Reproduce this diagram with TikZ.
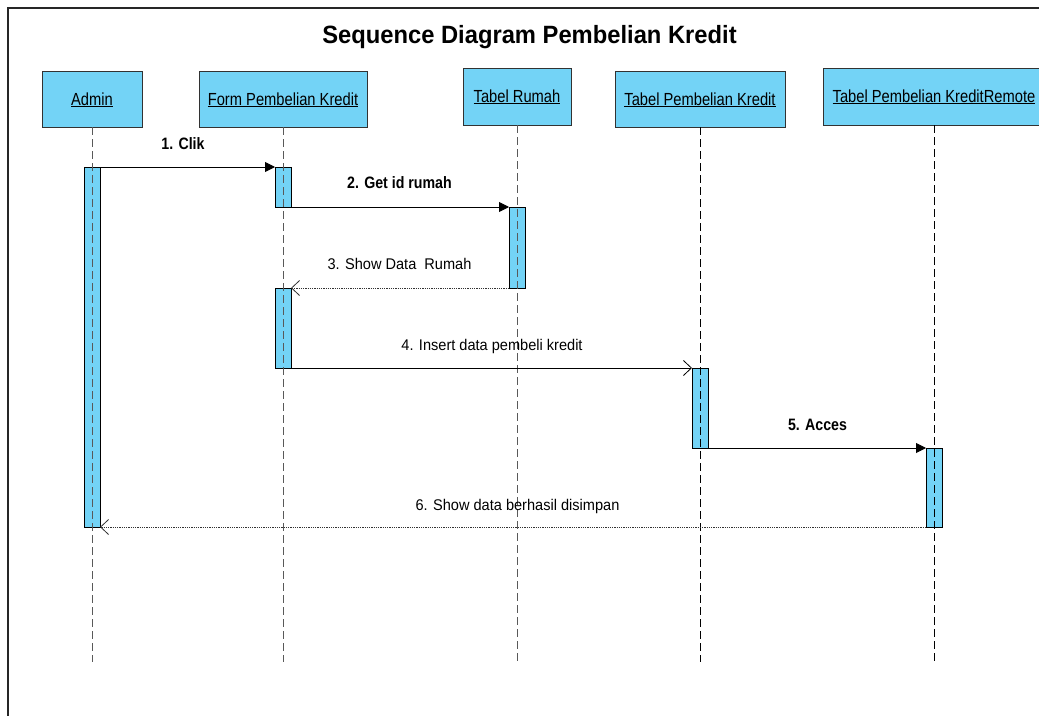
\documentclass[tikz,border=0pt]{standalone}
\usepackage{fontspec}
\setmainfont{Liberation Sans}
\newfontfamily\hdrfont[FakeStretch=0.84]{Liberation Sans}
\newfontfamily\msgfont[FakeStretch=0.94]{Liberation Sans}
\newfontfamily\msgbfont[FakeStretch=0.86]{Liberation Sans}
\newfontfamily\ttlfont[FakeStretch=0.95]{Liberation Sans}
\usetikzlibrary{arrows.meta}
\definecolor{lifeblue}{RGB}{115,211,246}
\definecolor{boxline}{RGB}{50,50,50}
\tikzset{
  objbox/.style={draw=boxline, line width=0.9pt, fill=lifeblue, inner sep=0pt,
    outer sep=0pt, minimum height=56pt, text=black,
    font=\hdrfont\fontsize{17.5}{20}\selectfont},
  actbar/.style={draw=black, line width=0.8pt, fill=lifeblue, inner sep=0pt,
    outer sep=0pt, minimum width=16pt},
  lifeline/.style={draw=black, line width=0.9pt, dash pattern=on 8pt off 4pt},
  lifelinegray/.style={lifeline, draw=black!65},
  syncmsg/.style={draw=black, line width=0.9pt, -{Triangle[length=10pt,width=10pt]}},
  asyncmsg/.style={draw=black, line width=0.9pt, -{Straight Barb[length=8pt,width=15pt,line width=0.8pt]}},
  replymsg/.style={draw=black!80, line width=0.8pt, dash pattern=on 1pt off 0.8pt,
    -{Straight Barb[length=8pt,width=15pt,line width=0.8pt]}},
  msglabel/.style={anchor=base, inner sep=0pt, font=\msgfont\fontsize{15.5}{18}\selectfont},
  msgbold/.style={anchor=base, inner sep=0pt, font=\msgbfont\bfseries\fontsize{16.5}{19}\selectfont},
  hdrtext/.style={anchor=base, inner sep=0pt, font=\hdrfont\fontsize{17.5}{20}\selectfont},
}
\begin{document}
\begin{tikzpicture}[x=1pt, y=-1pt]
\useasboundingbox (0,0) rectangle (1039,715);
\clip (0,0) rectangle (1039,715);
\fill[white] (0,0) rectangle (1039,715);

% outer frame
\draw[line width=1.4pt, draw=black!85] (8,8) rectangle (1080,760);

% title
\node[anchor=base, inner sep=0pt, font=\ttlfont\bfseries\fontsize{25}{28}\selectfont]
  (title) at (529.5,43) {Sequence Diagram Pembelian Kredit};

% objects
\node[objbox, minimum width=100pt] (hAdm) at (92,99) {};
\node[objbox, minimum width=168pt] (hForm) at (283,99) {};
\node[objbox, minimum width=108pt, minimum height=57pt] (hRumah) at (517,96.5) {};
\node[objbox, minimum width=170pt] (hTPK) at (700,99) {};
\node[objbox, minimum width=222pt, minimum height=57pt] (hRemote) at (934,96.5) {};

\node[hdrtext] (tAdm) at (92,105) {\underline{Admin}};
\node[hdrtext] (tForm) at (283,105) {\underline{Form Pembelian Kredit}};
\node[hdrtext] (tRumah) at (517,102) {\underline{Tabel Rumah}};
\node[hdrtext] (tTPK) at (700,105) {\underline{Tabel Pembelian Kredit}};
\node[hdrtext] (tRemote) at (934,102) {\underline{Tabel Pembelian KreditRemote}};

% activation bars
\node[actbar, minimum height=360pt] (aAdm) at (92,347) {};
\node[actbar, minimum height=40pt] (aForm1) at (283,187) {};
\node[actbar, minimum height=81pt] (aRumah) at (517,247.5) {};
\node[actbar, minimum height=80pt] (aForm2) at (283,328) {};
\node[actbar, minimum height=80pt] (aTPK) at (700,408) {};
\node[actbar, minimum height=79pt] (aRemote) at (934,487.5) {};

% lifeline ends
\coordinate (eAdm) at (92,662);
\coordinate (eForm) at (283,662);
\coordinate (eRumah) at (517,662);
\coordinate (eTPK) at (700,662);
\coordinate (eRemote) at (934,662);

% lifelines
\draw[lifelinegray] (hAdm.south) -- (eAdm);
\draw[lifelinegray] (hForm.south) -- (eForm);
\draw[lifelinegray] (hRumah.south) -- (eRumah);
\draw[lifeline] (hTPK.south) -- (eTPK);
\draw[lifeline] (hRemote.south) -- (eRemote);

% messages
\draw[syncmsg] (aAdm.north east) -- (aForm1.north west);
\draw[syncmsg] (aForm1.south east) -- (aRumah.north west);
\draw[replymsg] (aRumah.south west) -- (aForm2.north east);
\draw[asyncmsg] (aForm2.south east) -- (aTPK.north west);
\draw[syncmsg] (aTPK.south east) -- (aRemote.north west);
\draw[replymsg] (aRemote.south west) -- (aAdm.south east);

% message labels
\node[msgbold] (m1) at (183,149) {1. Clik};
\node[msgbold] (m2) at (399.5,188) {2. Get id rumah};
\node[msglabel] (m3) at (399.5,269) {3. Show Data\ \ Rumah};
\node[msglabel] (m4) at (492,350) {4. Insert data pembeli kredit};
\node[msgbold] (m5) at (817.5,430) {5. Acces};
\node[msglabel] (m6) at (517.5,510) {6. Show data berhasil disimpan};
\end{tikzpicture}
\end{document}
